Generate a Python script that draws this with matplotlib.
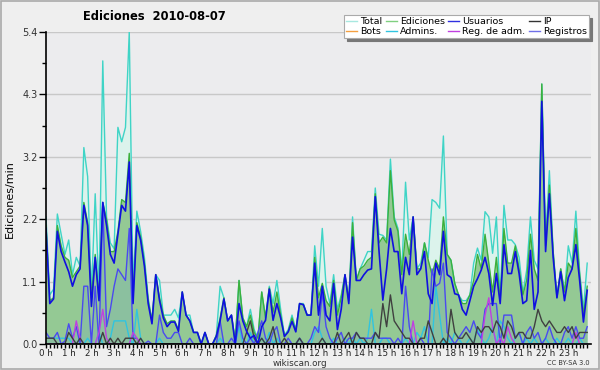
import numpy as np
import matplotlib
matplotlib.use("Agg")
import matplotlib.pyplot as plt
from matplotlib.patches import Rectangle
from matplotlib.lines import Line2D

title = "Ediciones  2010-08-07"
ylabel = "Ediciones/min"
hour_labels = [f"{h} h" for h in range(24)]
ytick_labels = ["0.0", "1.1", "2.2", "3.2", "4.3", "5.4"]

total = [
    2.2, 0.85, 0.95, 2.25, 1.9, 1.55,
    1.8, 1.2, 1.5, 1.35, 3.4, 2.9,
    0.85, 2.6, 0.85, 4.9, 2.2, 1.75,
    1.65, 3.75, 3.5, 3.75, 5.4, 1.0,
    2.3, 1.95, 1.5, 0.8, 0.4, 1.2,
    1.1, 0.5, 0.5, 0.5, 0.6, 0.45,
    0.9, 0.5, 0.5, 0.2, 0.2, 0.0,
    0.2, 0.0, 0.0, 0.15, 1.0, 0.8,
    0.4, 0.5, 0.05, 1.1, 0.45, 0.3,
    0.6, 0.25, 0.1, 0.9, 0.45, 1.0,
    0.7, 1.1, 0.6, 0.15, 0.25, 0.5,
    0.25, 0.7, 0.7, 0.5, 0.5, 1.7,
    1.0, 2.0, 1.0, 0.7, 1.2, 0.6,
    0.85, 1.2, 0.75, 2.2, 1.1, 1.3,
    1.45, 1.6, 1.6, 2.7, 1.9, 1.88,
    1.8, 3.2, 2.2, 2.0, 1.25, 2.8,
    1.8, 2.2, 1.3, 1.4, 1.75, 1.5,
    2.5, 2.45, 2.35, 3.6, 1.55, 1.45,
    1.05, 0.85, 0.75, 0.75, 0.85, 1.4,
    1.66, 1.45, 2.29, 2.2, 1.57, 2.2,
    0.76, 2.4, 1.8, 1.8, 1.72, 1.5,
    0.88, 1.28, 2.2, 1.45, 1.3, 4.5,
    1.8, 3.0, 1.6, 0.8, 1.3, 0.9,
    1.7, 1.4, 2.3, 1.25, 0.6, 1.4,
]
ediciones = [
    2.05, 0.75, 0.8, 2.05, 1.7, 1.5,
    1.45, 1.15, 1.25, 1.35, 2.45, 2.1,
    0.8, 1.55, 0.8, 2.45, 2.15, 1.6,
    1.6, 1.95, 2.5, 2.45, 3.3, 0.8,
    2.1, 1.85, 1.4, 0.75, 0.4, 1.2,
    0.8, 0.5, 0.35, 0.4, 0.4, 0.25,
    0.9, 0.5, 0.4, 0.2, 0.2, 0.0,
    0.2, 0.0, 0.0, 0.15, 0.45, 0.8,
    0.4, 0.5, 0.05, 1.1, 0.45, 0.3,
    0.5, 0.2, 0.1, 0.9, 0.45, 0.97,
    0.55, 0.9, 0.5, 0.13, 0.22, 0.45,
    0.22, 0.7, 0.68, 0.5, 0.5, 1.5,
    0.8, 1.05, 0.75, 0.65, 1.1, 0.5,
    0.8, 1.2, 0.75, 2.1, 1.1, 1.3,
    1.35, 1.45, 1.5, 2.6, 1.75, 1.85,
    1.75, 3.0, 2.15, 1.95, 1.2, 1.9,
    1.55, 2.2, 1.3, 1.3, 1.75, 1.45,
    1.2, 1.45, 1.3, 2.2, 1.55, 1.45,
    1.05, 0.85, 0.7, 0.7, 0.85, 1.1,
    1.55, 1.3, 1.9, 1.4, 0.9, 1.5,
    0.75, 2.0, 1.4, 1.4, 1.7, 1.3,
    0.85, 1.1, 1.9, 1.3, 1.1, 4.5,
    1.7, 2.75, 1.6, 0.8, 1.3, 0.9,
    1.4, 1.3, 2.0, 1.2, 0.5, 1.0,
]
usuarios = [
    2.0, 0.7, 0.78, 1.95, 1.6, 1.42,
    1.25, 1.0, 1.2, 1.3, 2.4, 2.05,
    0.65, 1.5, 0.75, 2.45, 2.05, 1.55,
    1.4, 1.9, 2.4, 2.3, 3.15, 0.7,
    2.05, 1.8, 1.35, 0.7, 0.35, 1.2,
    0.75, 0.45, 0.3, 0.38, 0.38, 0.22,
    0.9, 0.5, 0.4, 0.2, 0.2, 0.0,
    0.2, 0.0, 0.0, 0.13, 0.4, 0.78,
    0.4, 0.5, 0.0, 0.7, 0.4, 0.22,
    0.1, 0.15, 0.0, 0.3, 0.41, 0.95,
    0.41, 0.7, 0.45, 0.13, 0.21, 0.39,
    0.21, 0.7, 0.68, 0.5, 0.5, 1.4,
    0.5, 1.0, 0.5, 0.4, 1.05, 0.25,
    0.6, 1.2, 0.7, 1.85, 1.1, 1.1,
    1.2, 1.28, 1.3, 2.55, 1.6, 0.76,
    1.3, 2.0, 1.6, 1.6, 0.87, 1.5,
    1.2, 2.2, 1.2, 1.3, 1.6, 0.87,
    0.7, 1.4, 1.2, 1.95, 1.2, 1.15,
    0.87, 0.85, 0.6, 0.5, 0.75, 1.0,
    1.13, 1.28, 1.5, 1.22, 0.67, 1.22,
    0.7, 1.72, 1.22, 1.22, 1.6, 1.22,
    0.7, 0.75, 1.62, 0.6, 0.9, 4.2,
    1.6, 2.6, 1.5, 0.8, 1.25, 0.75,
    1.15, 1.3, 1.72, 1.1, 0.38, 0.93,
]
registros = [
    0.2, 0.1, 0.1, 0.2, 0.0, 0.05,
    0.35, 0.1, 0.3, 0.0, 1.0, 1.0,
    0.0, 1.0, 0.0, 2.45, 0.3, 0.6,
    1.0, 1.3, 1.2, 1.1, 2.0, 0.1,
    0.1, 0.0, 0.0, 0.05, 0.0, 0.0,
    0.5, 0.2, 0.1, 0.1, 0.2, 0.2,
    0.0, 0.0, 0.1, 0.0, 0.0, 0.0,
    0.0, 0.0, 0.0, 0.0, 0.4, 0.0,
    0.0, 0.1, 0.0, 0.4, 0.1, 0.0,
    0.1, 0.0, 0.2, 0.4, 0.1, 0.0,
    0.2, 0.3, 0.0, 0.0, 0.1, 0.0,
    0.0, 0.1, 0.0, 0.0, 0.1, 0.3,
    0.2, 0.9, 0.3, 0.1, 0.0, 0.1,
    0.2, 0.0, 0.1, 0.1, 0.2, 0.1,
    0.1, 0.1, 0.1, 0.2, 0.1, 0.1,
    0.1, 0.1, 0.0, 0.1, 0.0, 1.0,
    0.3, 0.0, 0.0, 0.1, 0.0, 0.0,
    1.3, 1.0, 1.05, 1.4, 0.2, 0.1,
    0.0, 0.1, 0.2, 0.3, 0.2, 0.4,
    0.2, 0.1, 0.6, 0.7, 0.7, 0.7,
    0.0, 0.5, 0.5, 0.5, 0.1, 0.2,
    0.0, 0.2, 0.3, 0.1, 0.2, 0.0,
    0.1, 0.3, 0.1, 0.0, 0.0, 0.2,
    0.3, 0.1, 0.3, 0.1, 0.1, 0.3,
]
ip = [
    0.1, 0.1, 0.1, 0.0, 0.0, 0.0,
    0.2, 0.1, 0.0, 0.1, 0.0, 0.0,
    0.0, 0.0, 0.0, 0.2, 0.0, 0.1,
    0.0, 0.1, 0.0, 0.1, 0.1, 0.1,
    0.0, 0.1, 0.0, 0.0, 0.0, 0.0,
    0.0, 0.0, 0.0, 0.0, 0.0, 0.0,
    0.0, 0.0, 0.0, 0.0, 0.0, 0.0,
    0.0, 0.0, 0.0, 0.0, 0.0, 0.0,
    0.0, 0.0, 0.0, 0.0, 0.0, 0.2,
    0.4, 0.1, 0.0, 0.1, 0.0, 0.1,
    0.3, 0.0, 0.0, 0.1, 0.0, 0.0,
    0.0, 0.1, 0.0, 0.0, 0.0, 0.0,
    0.0, 0.1, 0.0, 0.0, 0.0, 0.2,
    0.0, 0.1, 0.2, 0.0, 0.2, 0.1,
    0.1, 0.0, 0.0, 0.2, 0.1, 0.7,
    0.3, 0.85, 0.4, 0.3, 0.2, 0.1,
    0.1, 0.0, 0.0, 0.1, 0.1, 0.4,
    0.2, 0.0, 0.0, 0.1, 0.0, 0.6,
    0.2, 0.1, 0.1, 0.2, 0.1, 0.0,
    0.3, 0.2, 0.3, 0.3, 0.2, 0.4,
    0.3, 0.1, 0.4, 0.3, 0.1, 0.2,
    0.2, 0.1, 0.1, 0.3, 0.6, 0.4,
    0.3, 0.4, 0.3, 0.2, 0.2, 0.3,
    0.2, 0.3, 0.1, 0.2, 0.2, 0.2,
]
admins = [
    0.1, 0.1, 0.1, 0.1, 0.1, 0.1,
    0.1, 0.0, 0.0, 0.1, 0.0, 0.1,
    0.0, 0.0, 0.2, 0.0, 0.0, 0.1,
    0.4, 0.4, 0.4, 0.4, 0.1, 0.0,
    0.6, 0.1, 0.0, 0.0, 0.0, 0.0,
    0.1, 0.0, 0.0, 0.0, 0.0, 0.0,
    0.0, 0.0, 0.0, 0.0, 0.0, 0.0,
    0.0, 0.0, 0.0, 0.0, 0.1, 0.0,
    0.0, 0.0, 0.0, 0.3, 0.0, 0.0,
    0.2, 0.0, 0.0, 0.1, 0.0, 0.2,
    0.0, 0.1, 0.0, 0.0, 0.0, 0.0,
    0.0, 0.1, 0.0, 0.0, 0.0, 0.2,
    0.3, 0.1, 0.0, 0.0, 0.1, 0.0,
    0.0, 0.1, 0.0, 0.1, 0.0, 0.1,
    0.0, 0.1, 0.6, 0.0, 0.0, 0.1,
    0.1, 0.0, 0.0, 0.0, 0.0, 0.1,
    0.0, 0.0, 0.2, 0.1, 0.3, 0.0,
    0.0, 1.0, 0.5, 0.0, 0.1, 0.0,
    0.2, 0.1, 0.0, 0.0, 0.1, 0.0,
    0.3, 0.1, 0.0, 0.1, 0.3, 0.0,
    0.4, 0.3, 0.1, 0.0, 0.1, 0.2,
    0.0, 0.1, 0.0, 0.1, 0.0, 0.0,
    0.1, 0.0, 0.0, 0.1, 0.0, 0.0,
    0.1, 0.0, 0.0, 0.1, 0.0, 0.0,
]
reg_adm = [
    0.0, 0.0, 0.0, 0.0, 0.0, 0.0,
    0.0, 0.0, 0.4, 0.1, 0.0, 0.0,
    0.0, 0.0, 0.2, 0.6, 0.1, 0.0,
    0.0, 0.0, 0.0, 0.0, 0.0, 0.2,
    0.1, 0.0, 0.0, 0.0, 0.0, 0.0,
    0.0, 0.0, 0.0, 0.0, 0.0, 0.0,
    0.0, 0.0, 0.0, 0.0, 0.0, 0.0,
    0.0, 0.0, 0.0, 0.0, 0.0, 0.0,
    0.0, 0.0, 0.0, 0.0, 0.0, 0.0,
    0.0, 0.0, 0.0, 0.0, 0.0, 0.0,
    0.0, 0.0, 0.0, 0.0, 0.0, 0.0,
    0.0, 0.0, 0.0, 0.0, 0.0, 0.0,
    0.0, 0.0, 0.0, 0.0, 0.0, 0.0,
    0.0, 0.0, 0.0, 0.0, 0.0, 0.0,
    0.0, 0.0, 0.0, 0.0, 0.0, 0.0,
    0.0, 0.0, 0.0, 0.0, 0.0, 0.0,
    0.0, 0.4, 0.0, 0.0, 0.0, 0.0,
    0.0, 0.0, 0.0, 0.0, 0.0, 0.0,
    0.0, 0.0, 0.0, 0.0, 0.0, 0.0,
    0.0, 0.0, 0.5, 0.8, 0.3, 0.0,
    0.1, 0.0, 0.3, 0.1, 0.0, 0.0,
    0.0, 0.0, 0.0, 0.0, 0.0, 0.0,
    0.0, 0.0, 0.0, 0.0, 0.0, 0.0,
    0.0, 0.0, 0.2, 0.0, 0.0, 0.0,
]
bots = [0.0] * 144

BG = "#efefef"
fig = plt.figure(figsize=(6, 3.7), dpi=100, facecolor=BG)
fig.patches.append(Rectangle((0.0015, 0.0025), 0.997, 0.995, transform=fig.transFigure,
                             fill=False, edgecolor="#aaaaaa", linewidth=1.2))
ax = fig.add_axes([46 / 600, 26 / 370, 545 / 600, 312 / 370])
ax.set_facecolor("#ececee")

t = np.arange(len(total)) / 6.0

ax.fill_between(t, total, color="#dcf3ec", lw=0)
ax.fill_between(t, ediciones, color="#94c994", lw=0)
ax.fill_between(t, registros, color="#6a9fd0", alpha=0.2, lw=0)

l_total, = ax.plot(t, total, color="#3fd4c6", lw=1.0)
l_ed, = ax.plot(t, ediciones, color="#3cb03c", lw=1.0)
l_bots, = ax.plot(t, bots, color="#f5a040", lw=1.0)
l_adm, = ax.plot(t, admins, color="#30c4e0", lw=1.0)
l_reg, = ax.plot(t, registros, color="#4a4af0", lw=1.0)
l_regadm, = ax.plot(t, reg_adm, color="#c040e0", lw=1.0)
l_ip, = ax.plot(t, ip, color="#404040", lw=1.0)
l_us, = ax.plot(t, usuarios, color="#1010e0", lw=1.2)

ymax = 5.4
ax.set_xlim(0, 24)
ax.set_ylim(0, ymax)
yt = np.linspace(0, ymax, 6)
ax.set_yticks(yt)
ax.set_yticklabels(ytick_labels)
ax.set_yticks((yt[:-1] + yt[1:]) / 2, minor=True)
ax.set_xticks(np.arange(24))
ax.set_xticklabels(hour_labels)
ax.set_xticks(np.arange(0, 24, 1 / 6), minor=True)
ax.grid(axis="y", which="major", color="#c8c8c8", lw=1.0)
ax.set_axisbelow(True)
for s in ["top", "right"]:
    ax.spines[s].set_visible(False)
for s in ["left", "bottom"]:
    ax.spines[s].set_color("black")
    ax.spines[s].set_linewidth(1.2)
ax.tick_params(axis="y", which="major", length=5, width=1, labelsize=7, colors="black",
               labelcolor="#333333", pad=1)
ax.tick_params(axis="y", which="minor", length=3, width=1, colors="black")
ax.tick_params(axis="x", which="major", length=3, width=1, labelsize=6.3, colors="black",
               labelcolor="#222222", pad=0.5)
ax.tick_params(axis="x", which="minor", length=3, width=1, colors="black")

fig.text(10 / 600, 1 - 199 / 370, ylabel, rotation=90, ha="center", va="center",
         fontsize=8, color="black")
fig.text(154 / 600, 1 - 17 / 370, title, ha="center", va="center",
         fontsize=8.3, fontweight="bold", color="black")
fig.text(300 / 600, 1 - 363 / 370, "wikiscan.org", ha="center", va="center",
         fontsize=6.3, color="#333333")
fig.text(590 / 600, 1 - 363 / 370, "CC BY-SA 3.0", ha="right", va="center",
         fontsize=4.8, color="#333333")

labels = ["Total", "Bots", "Ediciones", "Admins.", "Usuarios", "Reg. de adm.", "IP", "Registros"]
leg_colors = ["#a8e8e0", "#f5a040", "#80d080", "#30c4e0", "#3030e0", "#c040e0", "#333333", "#7070e8"]
proxies = [Line2D([0], [0], color=c, lw=1.0) for c in leg_colors]
leg = fig.legend(proxies, labels, ncol=4, loc="upper right",
                 bbox_to_anchor=(594 / 600, 1 - 10 / 370), fontsize=6.8,
                 handlelength=1.2, handletextpad=0.3, columnspacing=0.35,
                 labelspacing=0.1, borderpad=0.25, frameon=True, fancybox=False,
                 shadow={"color": "#777777", "alpha": 1.0}, framealpha=1.0,
                 edgecolor="#aaaaaa", facecolor="white")
leg.get_frame().set_linewidth(0.8)

fig.savefig("out.png", dpi=100, facecolor=BG)
